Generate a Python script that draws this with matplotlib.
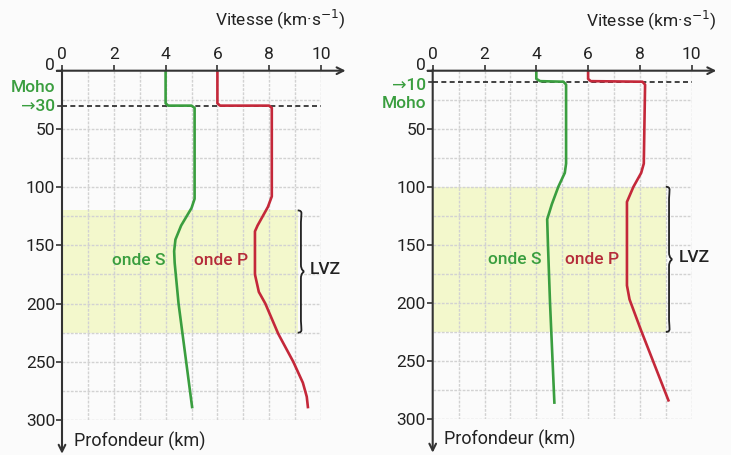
import matplotlib
matplotlib.use("Agg")
import matplotlib.pyplot as plt
from matplotlib.path import Path
from matplotlib.patches import PathPatch, Rectangle
from matplotlib.transforms import offset_copy

plt.rcParams['font.family'] = ['Roboto', 'DejaVu Sans']

# ---------------- data ----------------
x_ticks = [0, 2, 4, 6, 8, 10]
y_ticks = [0, 50, 100, 150, 200, 250, 300]

# Left profile (Moho at 30 km)
left_moho = 30
left_s_v = [4.0, 4.0, 4.1, 5.0, 5.12, 5.12, 5.0, 4.6, 4.38, 4.33, 4.35, 4.5, 5.03]
left_s_d = [0, 28, 30, 30, 32, 110, 118, 133, 145, 155, 165, 200, 290]
left_p_v = [6.0, 6.0, 6.1, 8.0, 8.1, 8.1, 7.95, 7.55, 7.45, 7.45, 7.6, 7.85, 8.35, 8.93, 9.3, 9.45, 9.5]
left_p_d = [0, 28, 30, 30, 32, 108, 117, 133, 138, 175, 190, 200, 226, 250, 268, 280, 290]
left_lvz = (120, 225)

# Right profile (Moho at 10 km)
right_moho = 10
right_s_v = [4.0, 4.0, 4.15, 5.05, 5.15, 5.15, 5.1, 4.85, 4.6, 4.42, 4.45, 4.53, 4.7]
right_s_d = [0, 7, 9, 9.5, 12, 80, 88, 100, 115, 128, 150, 200, 287]
right_p_v = [6.0, 6.0, 6.1, 8.1, 8.2, 8.15, 8.05, 7.75, 7.5, 7.5, 7.6, 8.05, 9.12]
right_p_d = [0, 7, 9, 9.5, 12, 80, 88, 100, 113, 185, 197, 224, 285]
right_lvz = (100, 225)

GREEN = '#3a9e3f'
RED = '#c4283a'
REDTXT = '#b52c3a'
SHADE = '#f3f8cc'
GRID = '#d2d2d2'
AX = '#333333'
TXT = '#222222'

fig = plt.figure(figsize=(7.31, 4.55), dpi=100)
fig.patch.set_facecolor('#fbfbfb')


def brace(ax, x, y0, y1, w):
    ym = (y0 + y1) / 2
    verts = [(x, y0), (x + w * 0.9, y0), (x + w * 0.5, y0 + 4), (x + w * 0.5, y0 + 10),
             (x + w * 0.5, ym - 6),
             (x + w * 0.5, ym - 1), (x + w, ym), (x + w, ym),
             (x + w, ym), (x + w * 0.5, ym + 1), (x + w * 0.5, ym + 6),
             (x + w * 0.5, y1 - 10),
             (x + w * 0.5, y1 - 4), (x + w * 0.9, y1), (x, y1)]
    codes = [Path.MOVETO, Path.CURVE4, Path.CURVE4, Path.CURVE4,
             Path.LINETO,
             Path.CURVE4, Path.CURVE4, Path.CURVE4,
             Path.CURVE4, Path.CURVE4, Path.CURVE4,
             Path.LINETO,
             Path.CURVE4, Path.CURVE4, Path.CURVE4]
    ax.add_patch(PathPatch(Path(verts, codes), fill=False, lw=1.3, ec=TXT,
                           clip_on=False, zorder=5))


def panel(rect, s_v, s_d, p_v, p_d, moho, lvz, moho_below, shade_x, brace_x, lvz_x,
          sx, px):
    ax = fig.add_axes(rect)
    ax.set_xlim(0, 10)
    ax.set_ylim(300, 0)
    ax.patch.set_alpha(0)
    for s in ax.spines.values():
        s.set_visible(False)
    # grid
    for gx in range(1, 11):
        ax.plot([gx, gx], [0, 300], color=GRID, lw=1.0, ls=(0, (2, 1)), zorder=1)
    for gy in range(25, 301, 25):
        ax.plot([0, 10], [gy, gy], color=GRID, lw=1.0, ls=(0, (2, 1)), zorder=1)
    # LVZ shading
    ax.add_patch(Rectangle((0, lvz[0]), shade_x, lvz[1] - lvz[0], fc=SHADE, ec='none', zorder=0.5))
    brace(ax, brace_x, lvz[0], lvz[1], 0.25)
    ax.text(lvz_x, (lvz[0] + lvz[1]) / 2 - 2, 'LVZ', fontsize=12.5, color=TXT,
            va='center', ha='left', fontweight='medium')
    # Moho dashed
    ax.plot([0, 10], [moho, moho], color=TXT, lw=1.2, ls=(0, (3, 2)), zorder=3)
    # curves
    ax.plot(s_v, s_d, color=GREEN, lw=1.9, zorder=4, solid_capstyle='butt')
    ax.plot(p_v, p_d, color=RED, lw=1.9, zorder=4, solid_capstyle='butt')
    ax.text(sx, 163, 'onde S', color=GREEN, fontsize=12.5, ha='center', va='center', fontweight='medium')
    ax.text(px, 163, 'onde P', color=REDTXT, fontsize=12.5, ha='center', va='center', fontweight='medium')
    # axes arrows
    ax.annotate('', xy=(10.95, 0), xytext=(-0.2, 0), xycoords='data',
                arrowprops=dict(arrowstyle='->', color=AX, lw=1.5, mutation_scale=12,
                                shrinkA=0, shrinkB=0), annotation_clip=False, zorder=6)
    ax.annotate('', xy=(0, 329), xytext=(0, -1), xycoords='data',
                arrowprops=dict(arrowstyle='->', color=AX, lw=1.5, mutation_scale=12,
                                shrinkA=0, shrinkB=0), annotation_clip=False, zorder=6)
    # ticks
    ax.xaxis.tick_top()
    ax.set_xticks(x_ticks)
    ax.set_xticklabels([str(v) for v in x_ticks])
    ax.set_yticks(y_ticks)
    ax.set_yticklabels(['' if v == 0 else str(v) for v in y_ticks])
    ax.tick_params(axis='x', direction='out', length=4, width=1.2, color=AX, labelsize=12.5,
                   pad=2, labelcolor=TXT)
    ax.tick_params(axis='y', direction='out', length=4, width=1.2, color=AX, labelsize=12.5,
                   pad=1, labelcolor=TXT)
    # the "0" depth label sits slightly above the axis line
    tr0 = offset_copy(ax.transData, fig=fig, x=-5, y=4, units='points')
    ax.text(0, y_ticks[0], str(y_ticks[0]), transform=tr0, fontsize=12.5, color=TXT,
            ha='right', va='center')
    # Moho labels
    ax.plot([-0.15, 0], [moho, moho], color=AX, lw=1.2, clip_on=False)
    if moho_below:
        ax.text(-0.25, moho + 2.5, '\u2192' + str(moho), color=GREEN, fontsize=12.5, ha='right',
                va='center', fontweight='medium', family=['Roboto', 'DejaVu Sans'])
        ax.text(-0.25, moho + 18, 'Moho', color=GREEN, fontsize=12.5, ha='right', va='center',
                fontweight='medium')
    else:
        ax.text(-0.25, moho + 1, '\u2192' + str(moho), color=GREEN, fontsize=12.5, ha='right',
                va='center', fontweight='medium', family=['Roboto', 'DejaVu Sans'])
        ax.text(-0.25, moho - 16, 'Moho', color=GREEN, fontsize=12.5, ha='right', va='center',
                fontweight='medium')
    # titles
    ax.text(10.95, -44, 'Vitesse (km\u00b7s$^{-1}$)', fontsize=12.5, ha='right', va='center',
            color=TXT)
    ax.text(0.45, 318, 'Profondeur (km)', fontsize=13, ha='left', va='center', color=TXT)
    return ax


panel([62 / 731, 35 / 455, 259 / 731, 349.3 / 455], left_s_v, left_s_d, left_p_v, left_p_d,
      left_moho, left_lvz, False, 9.1, 9.1, 9.55, 2.95, 6.14)
panel([432.7 / 731, 36 / 455, 259 / 731, 348.3 / 455], right_s_v, right_s_d, right_p_v, right_p_d,
      right_moho, right_lvz, True, 9.0, 9.0, 9.5, 3.15, 6.17)

fig.savefig('out.png', dpi=100, facecolor=fig.get_facecolor())
